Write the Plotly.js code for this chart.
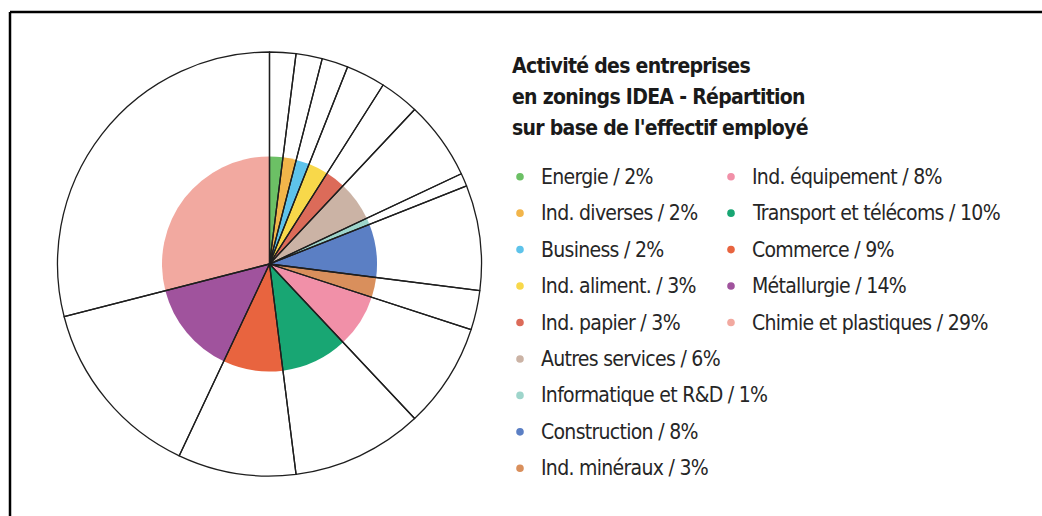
<!DOCTYPE html>
<html>
<head>
<meta charset="utf-8">
<script src="https://cdn.plot.ly/plotly-3.0.1.min.js"></script>
<style>
  html, body { margin: 0; padding: 0; background: #ffffff; }
  #chart { width: 1042px; height: 516px; }
  /* global so that Plotly's hidden text-measuring element uses the same metrics */
  text, tspan { font-stretch: condensed !important; letter-spacing: -0.7px; }
</style>
</head>
<body>
<div id="chart"></div>
<script>
// ---- Data ----
const labels = [
  "Energie", "Ind. diverses", "Business", "Ind. aliment.", "Ind. papier",
  "Autres services", "Informatique et R&D", "Construction", "Ind. minéraux",
  "Ind. équipement", "Transport et télécoms", "Commerce", "Métallurgie",
  "Chimie et plastiques"
];
const values = [2, 2, 2, 3, 3, 6, 1, 8, 3, 8, 10, 9, 14, 29];
const colors = [
  "#6cc065", "#f2b54a", "#5ec3ea", "#f8d84a", "#dc6b59",
  "#cbb3a5", "#9ed5cb", "#5b7fc4", "#d98f5c",
  "#f190a8", "#18a673", "#e8643f", "#a0539d", "#f2a9a0"
];
const titleLines = [
  "Activité des entreprises",
  "en zonings IDEA - Répartition",
  "sur base de l'effectif employé"
];
const firstColumnCount = 9;

// ---- Layout geometry ----
const W = 1042, H = 516;
const px = x => x / W;
const py = y => 1 - y / H;
const cx = 269.5, cy = 264;
const rOuter = 212, rInner = 107.5;
const domainFor = r => ({
  x: [px(cx - r), px(cx + r)],
  y: [py(cy + r), py(cy - r)]
});

const FONT = '"DejaVu Sans", sans-serif';

const innerPie = {
  type: "pie",
  labels: labels,
  values: values,
  sort: false,
  direction: "clockwise",
  rotation: 0,
  textinfo: "none",
  hoverinfo: "label+percent",
  marker: { colors: colors, line: { width: 0 } },
  domain: domainFor(rInner),
  showlegend: false
};

const outerPie = {
  type: "pie",
  labels: labels,
  values: values,
  sort: false,
  direction: "clockwise",
  rotation: 0,
  textinfo: "none",
  hoverinfo: "skip",
  marker: {
    colors: labels.map(() => "rgba(0,0,0,0)"),
    line: { color: "#1e1e1e", width: 1.3 }
  },
  domain: domainFor(rOuter),
  showlegend: false
};

// ---- Legend (two columns, built from the data arrays) ----
const rowY0 = 176.7, rowStep = 36.45;
const colDotX = [520, 731];
const colTextX = [539, 750];
const titleY0 = 65.5, titleStep = 31;
const shapes = [
  { type: "line", xref: "paper", yref: "paper", x0: px(10), x1: 1, y0: py(12), y1: py(12),
    line: { color: "#000", width: 2.5 } },
  { type: "line", xref: "paper", yref: "paper", x0: px(10), x1: px(10), y0: py(12), y1: 0,
    line: { color: "#000", width: 2.5 } }
];
const annotations = [];
titleLines.forEach((t, k) => {
  annotations.push({
    text: t,
    xref: "paper", yref: "paper",
    x: px(510), y: py(titleY0 + k * titleStep), xanchor: "left", yanchor: "middle",
    align: "left", showarrow: false,
    font: { family: FONT, size: 21, color: "#1a1a1a", weight: "bold" }
  });
});
labels.forEach((lab, i) => {
  const col = i < firstColumnCount ? 0 : 1;
  const row = col === 0 ? i : i - firstColumnCount;
  const y = rowY0 + row * rowStep;
  shapes.push({
    type: "circle", xref: "paper", yref: "paper",
    xsizemode: "pixel", ysizemode: "pixel",
    xanchor: px(colDotX[col]), yanchor: py(y),
    x0: -3.8, x1: 3.8, y0: -3.8, y1: 3.8,
    fillcolor: colors[i], line: { width: 0 }
  });
  annotations.push({
    text: lab + " / " + values[i] + "%",
    xref: "paper", yref: "paper",
    x: px(colTextX[col]), y: py(y), xanchor: "left", yanchor: "middle",
    align: "left", showarrow: false,
    font: { family: FONT, size: 21, color: "#262626" }
  });
});

const layout = {
  width: W, height: H,
  margin: { l: 0, r: 0, t: 0, b: 0 },
  paper_bgcolor: "#ffffff",
  plot_bgcolor: "#ffffff",
  showlegend: false,
  shapes: shapes,
  annotations: annotations
};

Plotly.newPlot("chart", [innerPie, outerPie], layout, { displayModeBar: false, staticPlot: true });
</script>
</body>
</html>
